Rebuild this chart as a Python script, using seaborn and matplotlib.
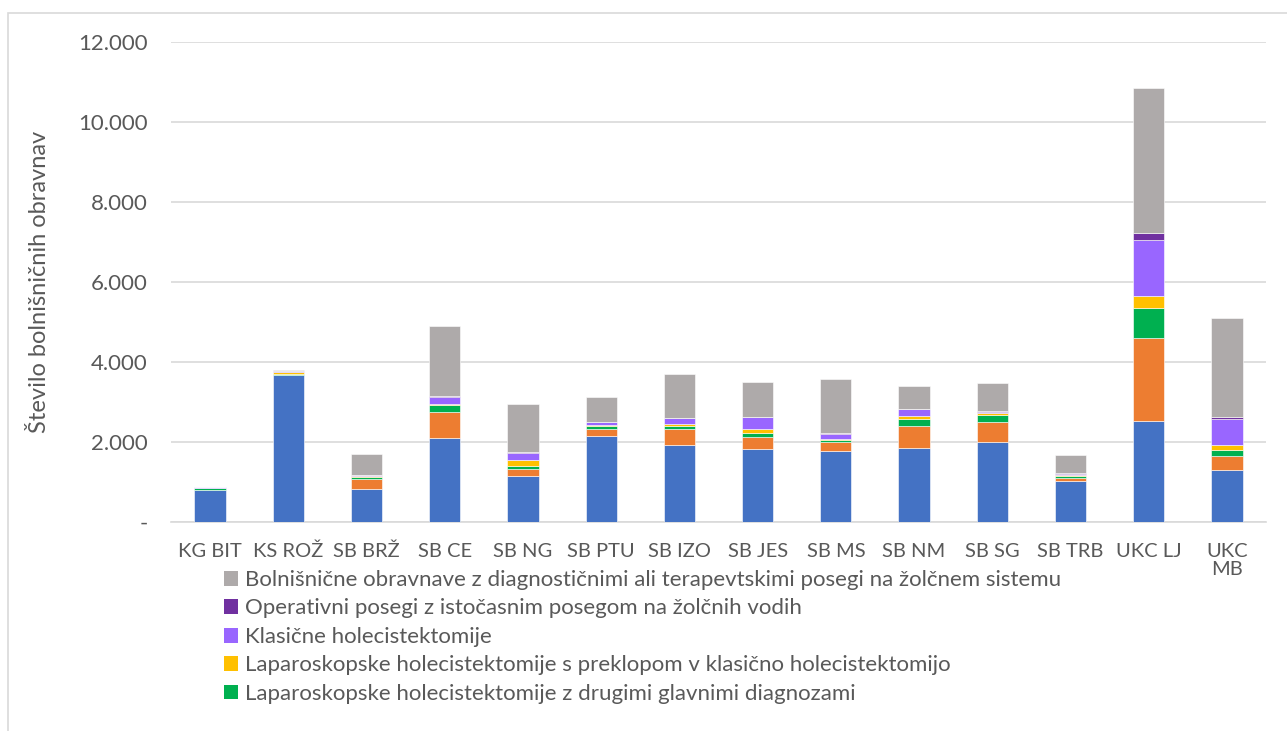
import numpy as np
import pandas as pd
import matplotlib
matplotlib.use("Agg")
import matplotlib.pyplot as plt
from matplotlib.patches import Rectangle, Patch
from matplotlib.ticker import FuncFormatter
import seaborn as sns

# hospitals on the x axis
hospitals = ["KG BIT", "KS ROŽ", "SB BRŽ", "SB CE", "SB NG", "SB PTU", "SB IZO",
             "SB JES", "SB MS", "SB NM", "SB SG", "SB TRB", "UKC LJ", "UKC\nMB"]

# stacked series, bottom to top
lap_basic = [800, 3667, 825, 2100, 1150, 2150, 1933, 1817, 1775, 1842, 2000, 1025, 2517, 1300]
lap_other = [5, 10, 240, 650, 183, 183, 400, 316, 225, 566, 500, 67, 2083, 350]
lap_diag = [50, 30, 60, 167, 75, 75, 67, 92, 50, 175, 167, 58, 750, 150]
lap_conv = [5, 50, 15, 40, 133, 25, 40, 100, 33, 59, 50, 25, 300, 117]
classic = [5, 20, 35, 175, 183, 60, 150, 300, 125, 175, 40, 35, 1392, 650]
ops_bile = [2, 5, 10, 10, 25, 5, 10, 5, 10, 10, 10, 7, 183, 58]
diag_ther = [8, 26, 515, 1760, 1200, 635, 1090, 870, 1350, 580, 708, 450, 3617, 2475]

series_names = [
    "Laparoskopske holecistektomije",
    "Laparoskopske holecistektomije (ostalo)",
    "Laparoskopske holecistektomije z drugimi glavnimi diagnozami",
    "Laparoskopske holecistektomije s preklopom v klasično holecistektomijo",
    "Klasične holecistektomije",
    "Operativni posegi z istočasnim posegom na žolčnih vodih",
    "Bolnišnične obravnave z diagnostičnimi ali terapevtskimi posegi na žolčnem sistemu",
]
series_values = [lap_basic, lap_other, lap_diag, lap_conv, classic, ops_bile, diag_ther]
colors = ["#4472C4", "#ED7D31", "#00B050", "#FFC000", "#9966FF", "#7030A0", "#AEAAAA"]

sns.set_theme(style="white")
plt.rcParams["font.family"] = ["Lato", "DejaVu Sans"]
text_col = "#595959"

fig = plt.figure(figsize=(12.87, 7.31), dpi=100)
ax = fig.add_axes([171 / 1287, 1 - 522 / 731, (1266 - 171) / 1287, (522 - 42) / 731])

bottom = np.zeros(len(hospitals))
for name, vals, col in zip(series_names, series_values, colors):
    df = pd.DataFrame({"bolnisnica": hospitals, "vrednost": vals})
    sns.barplot(data=df, x="bolnisnica", y="vrednost", color=col, width=0.4,
                saturation=1, bottom=bottom, edgecolor="white", linewidth=0.4,
                ax=ax, zorder=3)
    bottom = bottom + np.array(vals)

ax.set_ylim(0, 12000)
ax.set_yticks(np.arange(0, 12001, 2000))
ax.yaxis.set_major_formatter(FuncFormatter(
    lambda v, p: "-" if v == 0 else f"{int(v):,}".replace(",", ".")))
ax.grid(axis="y", color="#D9D9D9", linewidth=1.2, zorder=0)
ax.set_axisbelow(True)
for s in ["top", "right", "left"]:
    ax.spines[s].set_visible(False)
ax.spines["bottom"].set_color("#D9D9D9")
ax.spines["bottom"].set_linewidth(1.2)
ax.tick_params(axis="both", length=0, labelsize=16, colors=text_col)
ax.tick_params(axis="x", pad=15, labelsize=14.5)
ax.tick_params(axis="y", pad=17)
ax.set_xlabel("")
ax.set_ylabel("Število bolnišničnih obravnav", fontsize=17, color=text_col, labelpad=20)
for lbl in ax.get_xticklabels():
    lbl.set_verticalalignment("top")
    lbl.set_linespacing(1.1)

# legend (only the visible part of the original)
handles = [Patch(facecolor=colors[i], edgecolor="none", label=series_names[i])
           for i in [6, 5, 4, 3, 2]]
fig.legend(handles=handles, loc="upper left", bbox_to_anchor=(224 / 1287, 1 - 570 / 731),
           frameon=False, fontsize=16, labelcolor=text_col, handlelength=0.65,
           handleheight=0.65, handletextpad=0.3, labelspacing=0.38, borderaxespad=0,
           borderpad=0)

# outer chart frame
fig.patches.append(Rectangle((8 / 1287, -0.05), 1.1, 1 - 13 / 731 + 0.05,
                             transform=fig.transFigure, fill=False,
                             edgecolor="#D9D9D9", linewidth=1.2))

fig.savefig("out.png", dpi=100)
